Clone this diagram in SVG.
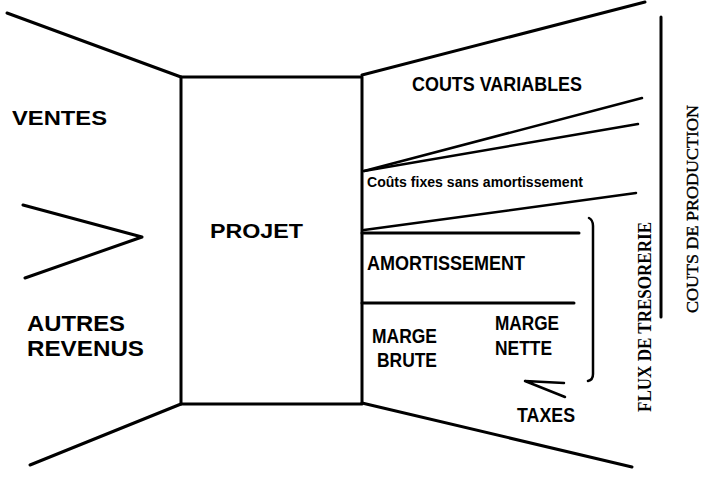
<svg xmlns="http://www.w3.org/2000/svg" width="703" height="479" viewBox="0 0 703 479">
<style>
.ln{stroke:#000;stroke-width:3;fill:none;stroke-linecap:round;stroke-linejoin:round}
.th{stroke-width:2.5}
.t{font-family:"Liberation Sans",Arial,sans-serif;font-weight:bold;fill:#000}
.s{font-family:"Liberation Serif","Times New Roman",serif;fill:#000}
</style>
<rect width="703" height="479" fill="#fff"/>
<g id="connectors">
<line class="ln" x1="7" y1="13" x2="181" y2="77"/>
<line class="ln" x1="30" y1="465" x2="181" y2="404"/>
<polyline class="ln" points="23,205 142,237 25,278"/>
<line class="ln" x1="362" y1="75" x2="645" y2="2"/>
<line class="ln th" x1="364" y1="171" x2="642" y2="98"/>
<line class="ln th" x1="364" y1="171" x2="638" y2="124"/>
<line class="ln th" x1="364" y1="230" x2="636" y2="193"/>
<line class="ln" x1="362" y1="233" x2="579" y2="233"/>
<line class="ln" x1="362" y1="303" x2="574" y2="303"/>
<line class="ln" x1="362" y1="403" x2="632" y2="467"/>
<path class="ln th" d="M589,218 Q593,220 593,226 L593,374 Q593,380 588,381"/>
<line class="ln" x1="661" y1="17" x2="661" y2="317"/>
<path class="ln th" d="M564,383 L525,381 L565,397"/>
</g>
<g id="projet">
<rect class="ln" x="181" y="77" width="181" height="327"/>
<text class="t" x="210" y="238" font-size="20" textLength="93" lengthAdjust="spacingAndGlyphs">PROJET</text>
</g>
<g id="ventes"><text class="t" x="12" y="125" font-size="21" textLength="95" lengthAdjust="spacingAndGlyphs">VENTES</text></g>
<g id="autres-revenus">
<text class="t" x="27" y="331" font-size="22" textLength="98" lengthAdjust="spacingAndGlyphs">AUTRES</text>
<text class="t" x="27" y="356" font-size="22" textLength="117" lengthAdjust="spacingAndGlyphs">REVENUS</text>
</g>
<g id="couts-variables"><text class="t" x="412" y="91" font-size="20" textLength="170" lengthAdjust="spacingAndGlyphs">COUTS VARIABLES</text></g>
<g id="couts-fixes"><text class="t" x="367" y="187" font-size="15" textLength="216" lengthAdjust="spacingAndGlyphs">Coûts fixes sans amortissement</text></g>
<g id="amortissement"><text class="t" x="367" y="270" font-size="21" textLength="158" lengthAdjust="spacingAndGlyphs">AMORTISSEMENT</text></g>
<g id="marge-brute">
<text class="t" x="372" y="343" font-size="21" textLength="65" lengthAdjust="spacingAndGlyphs">MARGE</text>
<text class="t" x="377" y="367" font-size="21" textLength="60" lengthAdjust="spacingAndGlyphs">BRUTE</text>
</g>
<g id="marge-nette">
<text class="t" x="495" y="330" font-size="21" textLength="64" lengthAdjust="spacingAndGlyphs">MARGE</text>
<text class="t" x="495" y="355" font-size="21" textLength="57" lengthAdjust="spacingAndGlyphs">NETTE</text>
</g>
<g id="taxes"><text class="t" x="517" y="422" font-size="20" textLength="58" lengthAdjust="spacingAndGlyphs">TAXES</text></g>
<g id="flux-tresorerie"><text class="s" font-weight="bold" transform="translate(651,412) rotate(-90)" font-size="18" textLength="190" lengthAdjust="spacingAndGlyphs">FLUX DE TRESORERIE</text></g>
<g id="couts-production"><text class="s" stroke="#000" stroke-width="0.4" transform="translate(698,313) rotate(-90)" font-size="17" textLength="208" lengthAdjust="spacingAndGlyphs">COUTS DE PRODUCTION</text></g>
</svg>
